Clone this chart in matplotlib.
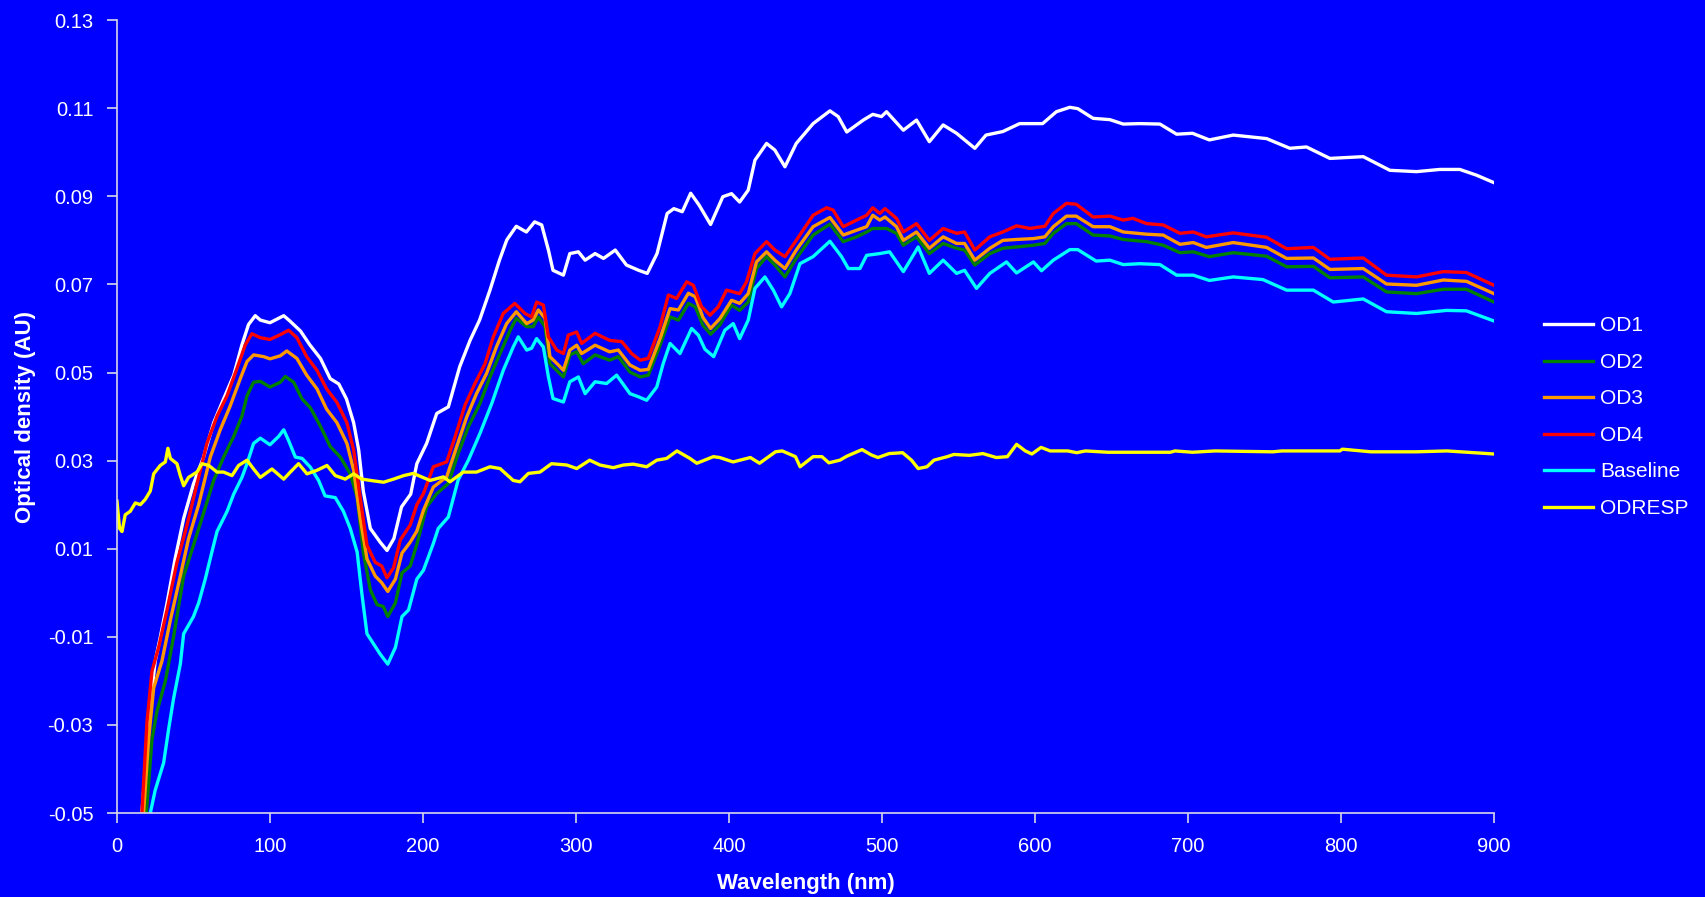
import matplotlib
matplotlib.use("Agg")
import matplotlib.pyplot as plt

plt.rcParams['font.family'] = ['Liberation Sans', 'DejaVu Sans']
plt.rcParams['axes.unicode_minus'] = False

# (wavelength nm, optical density AU)
od1 = [(14, -0.065), (16.3, -0.05), (21.8, -0.0255), (25, -0.0155), (28.3, -0.0101), (32.7, -0.0024),
       (38, 0.0077), (43.6, 0.0169), (50, 0.0247), (56.6, 0.0308), (63.2, 0.0386), (69.7, 0.0440),
       (76.3, 0.0494), (81.7, 0.0563), (86, 0.0609), (90.4, 0.0629), (93.7, 0.0619), (100, 0.0613),
       (109, 0.0629), (113, 0.0617), (120, 0.0594), (126, 0.0563), (133, 0.0532), (139.4, 0.0486),
       (145, 0.0474), (150, 0.0440), (154.7, 0.0386), (158, 0.0324), (161, 0.0231), (165.6, 0.0146),
       (172, 0.0115), (176.5, 0.0096), (181, 0.0123), (186, 0.0195), (192, 0.0224), (196, 0.0293),
       (202.4, 0.0339), (209, 0.0407), (216.6, 0.0422), (224, 0.0513), (230.8, 0.0573), (237, 0.0619),
       (243.8, 0.0687), (250, 0.0755), (254.8, 0.0801), (261, 0.0832), (267.6, 0.0819), (273, 0.0842),
       (277.6, 0.0835), (282, 0.0778), (285, 0.0732), (291.8, 0.0721), (296, 0.0770), (301.6, 0.0774),
       (306, 0.0755), (312.5, 0.0770), (318, 0.0759), (325.7, 0.0778), (333, 0.0744), (341, 0.0732),
       (346.6, 0.0725), (353, 0.0770), (359.6, 0.0861), (364, 0.0872), (369.5, 0.0865), (375, 0.0907),
       (380.5, 0.0880), (388, 0.0836), (396, 0.0899), (401.7, 0.0906), (407, 0.0887), (412.6, 0.0914),
       (417, 0.0982), (424.6, 0.1020), (430, 0.1005), (436.6, 0.0967), (444, 0.1020), (455, 0.1065),
       (466, 0.1094), (471.4, 0.1081), (477, 0.1046), (487.8, 0.1073), (494, 0.1086), (499.7, 0.1081),
       (503, 0.1092), (514, 0.1050), (522.6, 0.1073), (531, 0.1024), (540, 0.1062), (548.8, 0.1043),
       (560.7, 0.1009), (568, 0.1039), (579, 0.1047), (590, 0.1065), (594.5, 0.1065), (605, 0.1065),
       (614, 0.1092), (622.8, 0.1102), (628, 0.1099), (638, 0.1077), (649, 0.1074), (657.7, 0.1064),
       (668.6, 0.1065), (681.7, 0.1064), (692.6, 0.1041), (703, 0.1043), (714, 0.1028), (729.6, 0.1039),
       (751.4, 0.1031), (766.6, 0.1009), (777.5, 0.1012), (792.8, 0.0986), (814.6, 0.0990), (832, 0.0959),
       (849.4, 0.0956), (864.7, 0.0961), (877.7, 0.0961), (888.6, 0.0948), (900, 0.0931)]

od2 = [(17, -0.065), (19.2, -0.05), (22.9, -0.0332), (26.1, -0.0270), (31.6, -0.0201), (37, -0.0100),
       (43.6, 0.0038), (50, 0.0108), (55.6, 0.0170), (63.2, 0.0255), (69.7, 0.0308), (76.3, 0.0355),
       (81.7, 0.0401), (85, 0.0447), (89.3, 0.0478), (93.7, 0.0480), (100, 0.0467), (106.8, 0.0478),
       (110, 0.0491), (115.5, 0.0478), (121, 0.0440), (126.4, 0.0420), (133, 0.0378), (139.4, 0.0332),
       (146, 0.0308), (152.5, 0.0270), (157, 0.0216), (161, 0.0092), (165.6, 0.0007), (170, -0.0027),
       (174, -0.0031), (177, -0.0054), (182, -0.0023), (186.3, 0.0045), (191.7, 0.0061), (196, 0.0110),
       (202.4, 0.0195), (209, 0.0225), (216.6, 0.0248), (223, 0.0316), (229.7, 0.0377), (237.3, 0.0430),
       (243.8, 0.0490), (250.4, 0.0543), (257, 0.0596), (261, 0.0623), (267.8, 0.0604), (272, 0.0604),
       (275.4, 0.0626), (279.8, 0.0604), (283, 0.0520), (288.5, 0.0501), (291.8, 0.0490), (296, 0.0540),
       (300.5, 0.0547), (304.8, 0.0520), (312.5, 0.0540), (322, 0.0528), (327.7, 0.0536), (335.3, 0.0501),
       (342, 0.0490), (347.3, 0.0494), (355, 0.0562), (361.5, 0.0626), (367, 0.0619), (373.5, 0.0657),
       (378, 0.0649), (383, 0.0607), (388, 0.0587), (394, 0.0608), (401.7, 0.0653), (407, 0.0641),
       (412.6, 0.0660), (418, 0.0736), (424.6, 0.0763), (430, 0.0744), (436.6, 0.0717), (444, 0.0759),
       (455, 0.0812), (466, 0.0837), (474.7, 0.0797), (483.4, 0.0808), (490, 0.0819), (494, 0.0827),
       (503, 0.0827), (509.5, 0.0816), (514, 0.0789), (522.6, 0.0808), (531, 0.0770), (540, 0.0793),
       (548.8, 0.0782), (554, 0.0778), (560.7, 0.0744), (570.5, 0.0770), (579, 0.0782), (588, 0.0785),
       (599, 0.0789), (606.5, 0.0793), (612, 0.0816), (620.6, 0.0838), (627, 0.0838), (638, 0.0812),
       (649, 0.0810), (657.7, 0.0802), (673, 0.0797), (683.8, 0.0789), (694.8, 0.0772), (703.5, 0.0774),
       (714, 0.0763), (729.6, 0.0772), (751.4, 0.0764), (764.5, 0.0740), (782, 0.0741), (792.8, 0.0715),
       (814.6, 0.0717), (829.8, 0.0683), (849.4, 0.0679), (866.9, 0.0689), (882, 0.0689), (900, 0.0660)]

od3 = [(15, -0.065), (17.4, -0.05), (20.7, -0.0332), (24, -0.0216), (29.4, -0.0155), (34.9, -0.0062),
       (41.4, 0.0038), (46.8, 0.0123), (53.4, 0.0200), (61, 0.0308), (67.5, 0.0370), (74, 0.0424),
       (80.6, 0.0486), (85, 0.0525), (89.3, 0.0540), (95.9, 0.0536), (100, 0.0531), (106.8, 0.0538),
       (111, 0.0549), (117.6, 0.0532), (124, 0.0494), (130.7, 0.0463), (137, 0.0417), (143.8, 0.0386),
       (150.3, 0.0339), (154.7, 0.0278), (159, 0.0169), (163.4, 0.0077), (168.8, 0.0038), (173, 0.0023),
       (177, 0.0003), (182, 0.0031), (186.3, 0.0090), (191.7, 0.0115), (196, 0.0140), (200.3, 0.0187),
       (206.8, 0.0240), (215.5, 0.0263), (222, 0.0331), (228.6, 0.0399), (235, 0.0452), (241.6, 0.0498),
       (248, 0.0558), (254.7, 0.0611), (261, 0.0638), (267.8, 0.0611), (272, 0.0619), (275.4, 0.0642),
       (279.8, 0.0623), (283, 0.0536), (288.5, 0.0517), (291.8, 0.0505), (296, 0.0551), (300.5, 0.0562),
       (303.7, 0.0543), (312.5, 0.0562), (322, 0.0547), (327.7, 0.0551), (335.3, 0.0517), (342, 0.0505),
       (347.3, 0.0507), (355, 0.0577), (361.5, 0.0645), (367, 0.0642), (373.5, 0.0680), (378, 0.0672),
       (383, 0.0625), (388, 0.0600), (394, 0.0622), (401.7, 0.0664), (407, 0.0657), (412.6, 0.0679),
       (418, 0.0751), (424.6, 0.0774), (430, 0.0755), (436.6, 0.0736), (444, 0.0778), (455, 0.0831),
       (466, 0.0852), (474.7, 0.0812), (483.4, 0.0823), (490, 0.0831), (494, 0.0857), (498.6, 0.0846),
       (502, 0.0853), (509.5, 0.0831), (514, 0.0800), (522.6, 0.0819), (531, 0.0782), (540, 0.0808),
       (548.8, 0.0793), (554, 0.0793), (560.7, 0.0755), (570.5, 0.0782), (579, 0.0800), (588, 0.0802),
       (599, 0.0804), (606.5, 0.0808), (612, 0.0831), (620.6, 0.0855), (627, 0.0855), (638, 0.0831),
       (649, 0.0831), (657.7, 0.0819), (673, 0.0814), (683.8, 0.0812), (694.8, 0.0791), (703.5, 0.0795),
       (712, 0.0784), (729.6, 0.0795), (751.4, 0.0784), (764.5, 0.0759), (782, 0.0760), (792.8, 0.0734),
       (814.6, 0.0736), (829.8, 0.0701), (849.4, 0.0698), (866.9, 0.0710), (882, 0.0707), (900, 0.0679)]

od4 = [(14, -0.065), (16.3, -0.05), (19.6, -0.0294), (22.9, -0.0178), (27.2, -0.0124), (32.7, -0.0039),
       (39.2, 0.0069), (45.8, 0.0154), (52.3, 0.0247), (58.8, 0.0339), (65.4, 0.0401), (71.9, 0.0447),
       (78.4, 0.0509), (83.9, 0.0563), (88.2, 0.0588), (93.7, 0.0579), (100, 0.0575), (106.8, 0.0586),
       (112.2, 0.0596), (117.6, 0.0579), (124, 0.0536), (130.7, 0.0505), (137, 0.0463), (143.8, 0.0432),
       (150.3, 0.0386), (154.7, 0.0324), (159, 0.0216), (163.4, 0.0108), (168.8, 0.0069), (173, 0.0061),
       (176.5, 0.0034), (180.8, 0.0057), (185.2, 0.0120), (191.7, 0.0154), (196, 0.0200), (200.3, 0.0225),
       (206.8, 0.0286), (215.5, 0.0297), (221, 0.0354), (227.5, 0.0426), (234, 0.0475), (240.6, 0.0520),
       (246, 0.0581), (252.5, 0.0634), (260, 0.0657), (266.7, 0.0634), (271, 0.0626), (274.3, 0.0660),
       (278.7, 0.0653), (282, 0.0581), (287.4, 0.0551), (291.8, 0.0543), (295, 0.0585), (300.5, 0.0592),
       (303.7, 0.0566), (312.5, 0.0589), (322, 0.0573), (330, 0.0570), (336.4, 0.0543), (342, 0.0528),
       (347.3, 0.0532), (355, 0.0604), (360.4, 0.0676), (365.8, 0.0668), (372.4, 0.0706), (376.7, 0.0698),
       (382, 0.0650), (387.6, 0.0630), (393, 0.0649), (398.4, 0.0687), (402.8, 0.0683), (407, 0.0679),
       (411.5, 0.0706), (417, 0.0770), (424.6, 0.0797), (430, 0.0778), (436.6, 0.0763), (444, 0.0800),
       (455, 0.0857), (463.8, 0.0874), (468, 0.0869), (474.7, 0.0831), (483.4, 0.0846), (490, 0.0857),
       (494, 0.0874), (498.6, 0.0861), (502, 0.0872), (509.5, 0.0850), (514, 0.0819), (522.6, 0.0838),
       (531, 0.0800), (540, 0.0827), (548.8, 0.0816), (554, 0.0819), (560.7, 0.0778), (570.5, 0.0808),
       (579, 0.0819), (588, 0.0833), (596.7, 0.0827), (606.5, 0.0832), (612, 0.0861), (620.6, 0.0884),
       (627, 0.0882), (638, 0.0853), (649, 0.0855), (657.7, 0.0846), (664, 0.0850), (673, 0.0838),
       (683.8, 0.0835), (694.8, 0.0816), (703.5, 0.0819), (712, 0.0808), (729.6, 0.0817), (751.4, 0.0807),
       (764.5, 0.0781), (782, 0.0784), (792.8, 0.0757), (814.6, 0.0760), (829.8, 0.0721), (849.4, 0.0717),
       (866.9, 0.0729), (882, 0.0727), (900, 0.0698)]

baseline = [(19, -0.065), (21.8, -0.05), (25, -0.0448), (30.5, -0.0386), (33.8, -0.0309), (37, -0.0240),
            (41.4, -0.0162), (43.6, -0.0093), (50, -0.0054), (53.4, -0.0023), (57.7, 0.0031), (62, 0.0092),
            (65.4, 0.0139), (72, 0.0185), (76.3, 0.0224), (81.7, 0.0262), (85, 0.0293), (89.3, 0.0339),
            (93.7, 0.0351), (100, 0.0336), (105.7, 0.0355), (109, 0.0370), (112, 0.0347), (116.6, 0.0308),
            (121, 0.0305), (126.4, 0.0285), (131.8, 0.0255), (136, 0.0220), (142.7, 0.0216), (148, 0.0185),
            (152.5, 0.0146), (157, 0.0092), (160, 0.0000), (163.4, -0.0093), (167.7, -0.0116), (172, -0.0139),
            (177, -0.0162), (182, -0.0124), (186.3, -0.0054), (190.6, -0.0039), (196, 0.0031), (200.3, 0.0051),
            (206.8, 0.0112), (210, 0.0146), (216.6, 0.0172), (223, 0.0256), (229.7, 0.0301), (237.3, 0.0362),
            (245, 0.0430), (252.5, 0.0505), (259, 0.0558), (262.3, 0.0581), (267.8, 0.0551), (271, 0.0555),
            (274.3, 0.0577), (278.7, 0.0558), (282, 0.0490), (285, 0.0441), (291.8, 0.0433), (296, 0.0479),
            (301.6, 0.0490), (306, 0.0452), (312.5, 0.0479), (320, 0.0475), (326.6, 0.0494), (335.3, 0.0452),
            (340.8, 0.0445), (346.2, 0.0437), (352.8, 0.0467), (357, 0.0520), (361.5, 0.0566), (368, 0.0543),
            (375.6, 0.0600), (380, 0.0585), (384.3, 0.0553), (390, 0.0536), (397.3, 0.0596), (402.8, 0.0611),
            (407, 0.0577), (412.6, 0.0619), (417, 0.0691), (423.5, 0.0717), (429, 0.0687), (434.4, 0.0649),
            (439.8, 0.0679), (446.4, 0.0747), (455, 0.0763), (466, 0.0798), (473.6, 0.0763), (478, 0.0736),
            (485.6, 0.0736), (490, 0.0766), (498.6, 0.0770), (505, 0.0774), (514, 0.0729), (523.7, 0.0785),
            (531, 0.0725), (540, 0.0755), (548.8, 0.0725), (554, 0.0732), (561.8, 0.0691), (570.5, 0.0725),
            (581.4, 0.0751), (588, 0.0726), (599, 0.0751), (604.3, 0.0731), (612, 0.0755), (622.8, 0.0779),
            (628, 0.0779), (640, 0.0753), (649, 0.0755), (657.7, 0.0745), (668.6, 0.0747), (681.7, 0.0745),
            (692.6, 0.0721), (703.5, 0.0721), (714, 0.0709), (729.6, 0.0717), (749, 0.0711), (764.5, 0.0687),
            (782, 0.0687), (795, 0.0660), (814.6, 0.0667), (829.8, 0.0638), (849.4, 0.0634), (869, 0.0641),
            (882, 0.0640), (900, 0.0617)]

odresp = [(0, 0.0208), (1.7, 0.0146), (3.3, 0.0139), (5.4, 0.0177), (8.7, 0.0185), (12, 0.0204),
          (15.3, 0.0200), (18.5, 0.0212), (21.8, 0.0231), (24, 0.0270), (28.3, 0.0289), (31.6, 0.0297),
          (33.3, 0.0328), (34.9, 0.0305), (39.2, 0.0293), (41.4, 0.0266), (43.6, 0.0243), (46.8, 0.0262),
          (52.3, 0.0274), (55.6, 0.0293), (60, 0.0289), (65.4, 0.0274), (69.7, 0.0274), (75.2, 0.0266),
          (79.5, 0.0289), (85, 0.0301), (89.3, 0.0281), (93.7, 0.0262), (101.3, 0.0281), (109, 0.0258),
          (113.3, 0.0274), (118.7, 0.0293), (124.2, 0.0270), (130.7, 0.0278), (137.3, 0.0289), (142.7, 0.0266),
          (149.2, 0.0258), (154.7, 0.0270), (160, 0.0258), (167.8, 0.0254), (174.3, 0.0251), (180.8, 0.0258),
          (187.4, 0.0266), (193.7, 0.0271), (204.6, 0.0255), (213.3, 0.0263), (217.7, 0.0252), (226.4, 0.0274),
          (235, 0.0274), (243.8, 0.0286), (250.4, 0.0282), (259, 0.0255), (263.4, 0.0252), (268.9, 0.0271),
          (276.5, 0.0274), (284, 0.0293), (294, 0.0290), (300.5, 0.0282), (309, 0.0301), (315.7, 0.0290),
          (324.4, 0.0284), (331, 0.0290), (337.5, 0.0292), (346.2, 0.0286), (352.8, 0.0301), (359.3, 0.0305),
          (366, 0.0322), (374.5, 0.0305), (379, 0.0294), (389.8, 0.0309), (394, 0.0307), (402.7, 0.0297),
          (414, 0.0307), (420, 0.0294), (430.4, 0.0320), (434.8, 0.0322), (443.5, 0.0309), (446.5, 0.0286),
          (455, 0.0309), (460.8, 0.0309), (465.3, 0.0295), (472.5, 0.0301), (477, 0.0310), (487, 0.0325),
          (493, 0.0313), (497.4, 0.0307), (504.7, 0.0316), (513.5, 0.0318), (519.3, 0.0301), (523.7, 0.0282),
          (529.4, 0.0286), (534, 0.0301), (542.7, 0.0309), (547, 0.0314), (557.2, 0.0312), (566, 0.0316),
          (574.7, 0.0307), (582, 0.0309), (588, 0.0337), (593.7, 0.0322), (598, 0.0315), (604, 0.0330),
          (610, 0.0322), (621.5, 0.0322), (627.3, 0.0318), (633, 0.0322), (647.7, 0.0319), (688.6, 0.0319),
          (691.5, 0.0322), (703, 0.0319), (717.7, 0.0322), (755.6, 0.0320), (761.4, 0.0322), (799.3, 0.0322),
          (800.9, 0.0326), (819.6, 0.0320), (849, 0.0320), (869.3, 0.0322), (895.8, 0.0316), (900, 0.0315)]

series_names = ['OD1', 'OD2', 'OD3', 'OD4', 'Baseline', 'ODRESP']
series_data = [od1, od2, od3, od4, baseline, odresp]
colors = ['#FFFFFF', '#008000', '#FF9900', '#FF0000', '#00FFFF', '#FFFF00']

x_ticks = list(range(0, 901, 100))
y_ticks = [-0.05, -0.03, -0.01, 0.01, 0.03, 0.05, 0.07, 0.09, 0.11, 0.13]

fig = plt.figure(figsize=(17.05, 8.97), dpi=100, facecolor='#0000FF')
ax = fig.add_axes([0.0686, 0.0936, 0.8076, 0.884])
ax.set_facecolor('#0000FF')

for name, data, c in zip(series_names, series_data, colors):
    xs = [p[0] for p in data]
    ys = [p[1] for p in data]
    ax.plot(xs, ys, color=c, lw=2.4, label=name)

ax.set_xlim(0, 900)
ax.set_ylim(-0.05, 0.13)
ax.set_xticks(x_ticks)
ax.set_yticks(y_ticks)
ax.set_yticklabels(['%.2f' % v for v in y_ticks])

for s in ['top', 'right']:
    ax.spines[s].set_visible(False)
for s in ['left', 'bottom']:
    ax.spines[s].set_color('#D8D8E8')
    ax.spines[s].set_linewidth(1.2)

ax.tick_params(axis='both', colors='#D8D8E8', labelcolor='white', labelsize=14.5,
               direction='out', length=7, width=1.2, pad=10)

ax.set_xlabel('Wavelength (nm)', color='white', fontsize=16, fontweight='bold')
ax.set_ylabel('Optical density (AU)', color='white', fontsize=16, fontweight='bold')
ax.xaxis.set_label_coords(0.5, -0.076)
ax.yaxis.set_label_coords(-0.059, 0.5)

leg = fig.legend(loc='center left', bbox_to_anchor=(0.9056, 0.535), frameon=False,
                 fontsize=15, handlelength=2.35, handletextpad=0.35, labelspacing=0.84,
                 borderpad=0, borderaxespad=0)
for t in leg.get_texts():
    t.set_color('white')

fig.savefig('out.png', dpi=100, facecolor=fig.get_facecolor())
